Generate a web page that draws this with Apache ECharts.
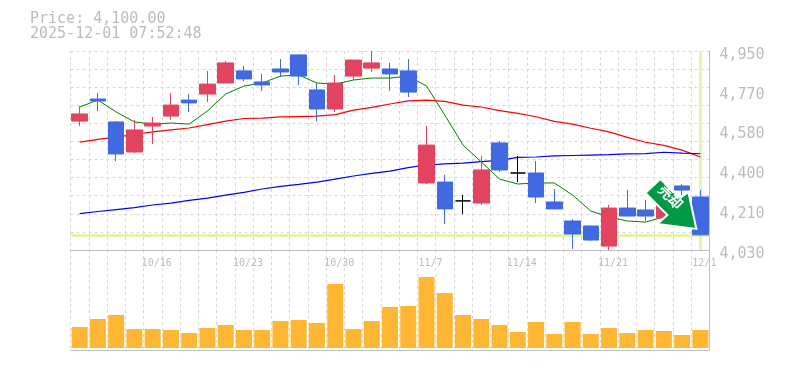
<!DOCTYPE html>
<html><head><meta charset="utf-8">
<style>html,body{margin:0;padding:0;background:#fff}#c{width:785px;height:370px}</style>
<script src="https://cdn.jsdelivr.net/npm/echarts@6/dist/echarts.min.js"></script>
</head><body><div id="c"></div>
<script>
const titleLines = ['Price: 4,100.00', '2025-12-01 07:52:48'];
const dateLabels = ['', '', '', '', '10/16', '', '', '', '', '10/23', '', '', '', '', '10/30', '', '', '', '', '11/7', '', '', '', '', '11/14', '', '', '', '', '11/21', '', '', '', '', '12/1'];
const priceTicks = [4030, 4214, 4398, 4582, 4766, 4950];
const lastPrice = 4100;
// [open, close, low, high]
const candles = [
[4626,4659,4603,4696],[4728,4719,4673,4756],[4622,4474,4441,4626],[4483,4585,4478,4631],[4603,4617,4520,4645],
[4649,4700,4631,4756],[4723,4710,4668,4751],[4751,4797,4714,4858],[4802,4895,4802,4904],[4858,4821,4811,4881],
[4807,4793,4765,4844],[4867,4853,4830,4913],[4932,4834,4793,4932],[4770,4682,4626,4802],[4682,4802,4668,4839],
[4834,4908,4816,4908],[4871,4895,4853,4950],[4867,4844,4765,4895],[4858,4760,4737,4913],[4340,4515,4335,4603],
[4344,4220,4150,4377],[4257,4257,4196,4284],[4247,4400,4238,4465],[4525,4400,4391,4534],[4386,4386,4344,4465],
[4386,4275,4247,4441],[4252,4220,4220,4312],[4164,4104,4035,4173],[4141,4076,4072,4141],[4048,4224,4030,4238],
[4224,4187,4187,4307],[4215,4187,4164,4261],[4178,4243,4178,4243],[4326,4307,4284,4335],[4275,4100,4095,4307]];
const maShort = [4691,4723,4668,4622,4612,4617,4612,4673,4751,4788,4802,4834,4839,4802,4797,4816,4825,4825,4834,4788,4654,4515,4437,4358,4335,4340,4340,4284,4210,4183,4164,4159,4183,4229,4206];
const maMid = [4529,4541,4552,4564,4576,4585,4594,4610,4626,4638,4640,4645,4647,4649,4656,4677,4689,4705,4719,4723,4717,4700,4691,4674,4662,4646,4625,4612,4593,4576,4551,4528,4514,4492,4460];
const maLong = [4198,4208,4217,4226,4238,4247,4259,4270,4284,4296,4312,4324,4333,4344,4358,4372,4384,4395,4411,4423,4428,4432,4439,4444,4458,4460,4465,4467,4469,4471,4474,4476,4482,4478,4475];
const volumes = [21,29,33,19,19,18,15,20,23,18,18,27,28,25,64,19,27,41,42,71,55,33,29,23,16,26,14,26,14,20,15,18,17,13,18];
const signalText = '売却';

const cats = dateLabels.map((d, i) => String(i));
const MONO = '"DejaVu Sans Mono", monospace';
const GRID = '#d8d8d8', AXIS = '#c0c0c0', TEXT = '#bcbcbc', RED = '#e2435f', BLUE = '#4169e1', GUIDE = '#e3f5a9';
const vSplit = {show: true, interval: 0, lineStyle: {color: GRID, type: [3, 3], width: 1}};
const maLine = (data, color, width) => ({type: 'line', data, xAxisIndex: 0, yAxisIndex: 0, symbol: 'none', z: 3, silent: true,
  lineStyle: {color, width}, animation: false});

const chart = echarts.init(document.getElementById('c'), null, {renderer: 'canvas'});
chart.setOption({
  animation: false,
  backgroundColor: '#fff',
  title: {text: titleLines.join('\n'), left: 30, top: 12, padding: 0,
    textStyle: {fontFamily: MONO, fontSize: 15, fontWeight: 'normal', color: TEXT, lineHeight: 15}},
  grid: [
    {left: 70.5, top: 51, width: 639, height: 199},
    {left: 70.5, top: 250, width: 639, height: 100}
  ],
  xAxis: [
    {type: 'category', gridIndex: 0, data: cats, boundaryGap: true, axisTick: {show: false}, axisLabel: {show: false},
     axisLine: {show: true, lineStyle: {color: AXIS, width: 1}}, splitLine: vSplit},
    {type: 'category', gridIndex: 1, data: cats, boundaryGap: true, position: 'top', axisTick: {show: false},
     axisLine: {show: false}, splitLine: vSplit,
     axisLabel: {show: true, inside: true, interval: 0, hideOverlap: false, margin: 8, color: TEXT, fontFamily: MONO, fontSize: 10,
       padding: [0, 0, 0, 8], formatter: (v, i) => dateLabels[i]}},
    {type: 'category', gridIndex: 1, data: cats, boundaryGap: true, position: 'bottom', axisTick: {show: false}, axisLabel: {show: false},
     axisLine: {show: true, lineStyle: {color: AXIS, width: 1}}, splitLine: {show: false}}
  ],
  yAxis: [
    {type: 'value', gridIndex: 0, position: 'right', min: 4030, max: 4950, axisTick: {show: false, customValues: priceTicks},
     axisLine: {show: true, lineStyle: {color: AXIS, width: 1}}, splitLine: {show: false},
     axisLabel: {show: true, customValues: priceTicks, margin: 10, color: TEXT, fontFamily: MONO, fontSize: 15, align: 'left', verticalAlign: 'top',
       lineHeight: 8, showMinLabel: true, showMaxLabel: true,
       formatter: v => (Math.round(v / 10) * 10).toLocaleString('en-US')}},
    {type: 'value', gridIndex: 0, min: 0, max: 11, interval: 1, axisLine: {show: false}, axisTick: {show: false}, axisLabel: {show: false},
     splitLine: {show: true, lineStyle: {color: GRID, type: [3, 3], width: 1}}},
    {type: 'value', gridIndex: 1, position: 'right', min: -2, max: 98, axisTick: {show: false}, axisLabel: {show: false},
     axisLine: {show: true, lineStyle: {color: AXIS, width: 1}}, splitLine: {show: false}}
  ],
  series: [
    {type: 'line', data: [], xAxisIndex: 0, yAxisIndex: 0, z: 1, silent: true,
     markLine: {silent: true, z: 1, symbol: 'none', animation: false, label: {show: false},
       lineStyle: {color: GUIDE, width: 3, type: 'solid'},
       data: [{yAxis: lastPrice}, {xAxis: 34}]}},
    maLine(maMid, '#ff0000', 1.2),
    maLine(maLong, '#0000ff', 1.2),
    maLine(maShort, '#008000', 1),
    {type: 'candlestick', xAxisIndex: 0, yAxisIndex: 0, z: 4, barWidth: 16, silent: true,
     data: candles.map(c => c[0] === c[1]
       ? {value: c, itemStyle: {color: '#000', color0: '#000', borderColor: '#000', borderColor0: '#000', borderColorDoji: '#000'}}
       : c),
     itemStyle: {color: RED, color0: BLUE, borderColor: RED, borderColor0: BLUE, borderWidth: 1},
     markPoint: {silent: true, animation: false, z: 20,
       data: [{coord: [32, 4243], symbol: 'path://M660 179 L680 198 L688 192 L696 229 L657 224 L667 215 L645 193 Z',
         symbolSize: [51, 50], symbolOffset: [7, 0], symbolKeepAspect: false,
         itemStyle: {color: '#009944', borderColor: '#fff', borderWidth: 2},
         label: {show: true, position: 'inside', formatter: signalText, rotate: -45, offset: [-5, -5], color: '#fff',
           fontFamily: '"Noto Sans CJK JP"', fontSize: 14, fontWeight: 'bold'}}]}},
    {type: 'bar', xAxisIndex: 1, yAxisIndex: 2, data: volumes, barWidth: 16, silent: true, itemStyle: {color: '#ffb733'}, z: 3}
  ]
});
</script></body></html>
